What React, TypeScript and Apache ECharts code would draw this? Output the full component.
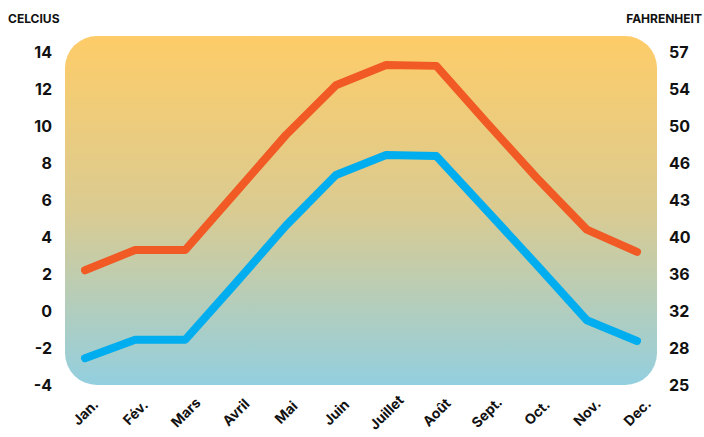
import React, { useEffect, useRef } from "react";
import * as echarts from "echarts";

const months = ["Jan.", "Fév.", "Mars", "Avril", "Mai", "Juin", "Juillet", "Août", "Sept.", "Oct.", "Nov.", "Dec."];
const maxTemps = [2.2, 3.3, 3.3, 6.4, 9.5, 12.2, 13.3, 13.25, 10.2, 7.2, 4.4, 3.2];
const minTemps = [-2.55, -1.55, -1.55, 1.5, 4.6, 7.35, 8.43, 8.38, 5.45, 2.5, -0.5, -1.62];
const celsiusTicks = [-4, -2, 0, 2, 4, 6, 8, 10, 12, 14];
const fahrenheitLabels = ["25", "28", "32", "36", "40", "43", "46", "50", "54", "57"];

const FONT = "Inter, 'Noto Sans', sans-serif";

export default function App() {
  const ref = useRef<HTMLDivElement>(null);
  useEffect(() => {
    if (!ref.current) return;
    const chart = echarts.init(ref.current, null, { renderer: "svg" });
    const yMin = celsiusTicks[0];
    const yMax = celsiusTicks[celsiusTicks.length - 1];
    const axisCommon = {
      type: "value",
      min: yMin,
      max: yMax,
      interval: 2,
      splitLine: { show: false },
      axisLine: { show: false },
      axisTick: { show: false },
    };
    chart.setOption({
      animation: false,
      backgroundColor: "#ffffff",
      grid: { left: 85, right: 67, top: 52, bottom: 52, containLabel: false },
      graphic: [
        {
          type: "rect",
          z: 0,
          silent: true,
          shape: { x: 65, y: 36, width: 592, height: 349, r: 32 },
          style: {
            fill: new echarts.graphic.LinearGradient(0, 0, 0, 1, [
              { offset: 0, color: "#FECC68" },
              { offset: 0.5, color: "#DACB91" },
              { offset: 1, color: "#93CFDF" },
            ]),
          },
        },
        {
          type: "text",
          left: 8,
          top: 12,
          style: { text: "CELCIUS", fill: "#111", font: `bold 12px ${FONT}` },
        },
        {
          type: "text",
          right: 2,
          top: 12,
          style: { text: "FAHRENHEIT", fill: "#111", font: `bold 12px ${FONT}` },
        },
      ],
      xAxis: {
        type: "category",
        data: months,
        boundaryGap: false,
        axisLine: { show: false },
        axisTick: { show: false },
        axisLabel: {
          rotate: 45,
          margin: 27,
          interval: 0,
          align: "center",
          verticalAlign: "middle",
          color: "#111",
          fontFamily: FONT,
          fontWeight: "bold",
          fontSize: 14,
        },
      },
      yAxis: [
        {
          ...axisCommon,
          position: "left",
          axisLabel: {
            margin: 33,
            color: "#111",
            fontFamily: FONT,
            fontWeight: "bold",
            fontSize: 16,
          },
        },
        {
          ...axisCommon,
          position: "right",
          axisLabel: {
            margin: 32,
            color: "#111",
            fontFamily: FONT,
            fontWeight: "bold",
            fontSize: 16,
            formatter: (v: number) => fahrenheitLabels[Math.round((v - yMin) / 2)] ?? "",
          },
        },
      ],
      series: [
        {
          type: "line",
          data: maxTemps,
          yAxisIndex: 0,
          z: 3,
          showSymbol: false,
          lineStyle: { color: "#F15A24", width: 8, cap: "round", join: "round" },
        },
        {
          type: "line",
          data: minTemps,
          yAxisIndex: 0,
          z: 3,
          showSymbol: false,
          lineStyle: { color: "#00AEEF", width: 8, cap: "round", join: "round" },
        },
      ],
    });
    return () => chart.dispose();
  }, []);
  return <div ref={ref} style={{ width: 704, height: 437, position: "absolute", left: 0, top: 0 }} />;
}
